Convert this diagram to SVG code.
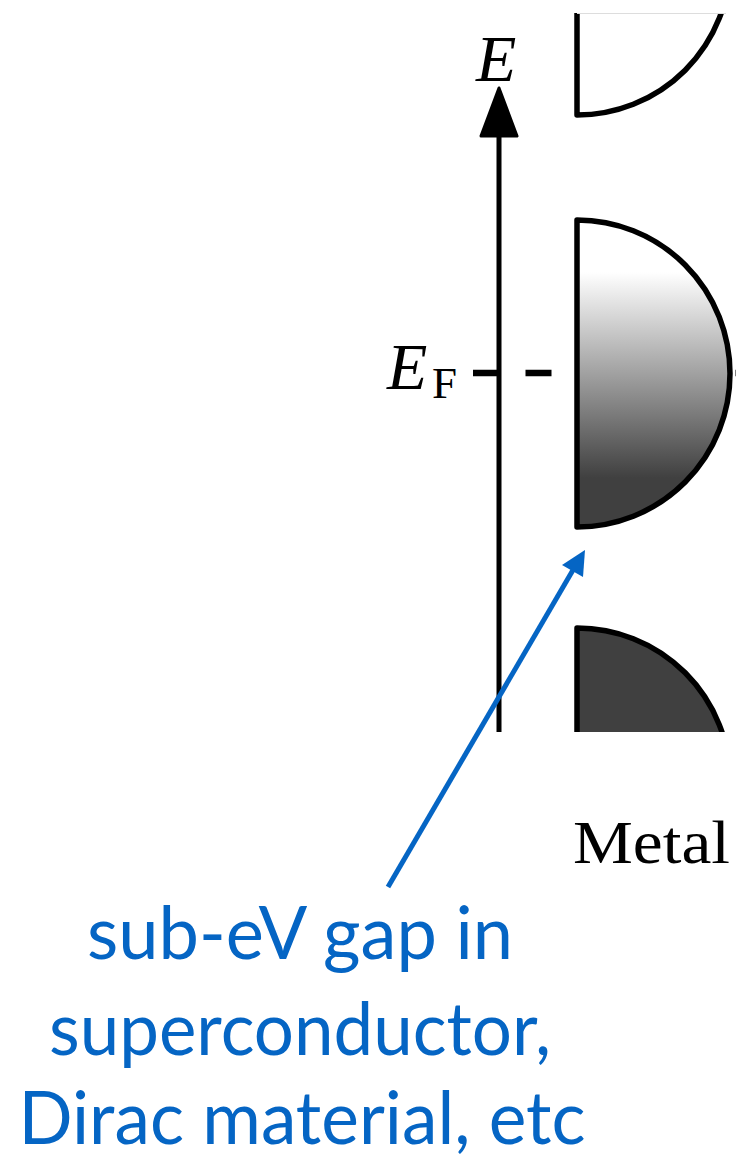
<svg xmlns="http://www.w3.org/2000/svg" width="736" height="1158" viewBox="0 0 736 1158">
  <style>
    .band { stroke: #000; stroke-width: 5.5; stroke-linejoin: round; }
    .math { font-family: "Liberation Serif", "DejaVu Serif", serif; fill: #000; }
    .note { font-family: Lato, "Open Sans", "Noto Sans", sans-serif; font-size: 73px; fill: #0565c4; text-anchor: middle; }
  </style>
  <defs>
    <clipPath id="clip">
      <rect x="0" y="13" width="736" height="719"/>
    </clipPath>
    <linearGradient id="grad" x1="0" y1="0" x2="0" y2="1">
      <stop offset="0.17" stop-color="#ffffff"/>
      <stop offset="0.84" stop-color="#404040"/>
    </linearGradient>
  </defs>
  <rect width="736" height="1158" fill="#fff"/>

  <!-- E_F dashed level (behind bands) -->
  <g id="fermi-level">
    <line x1="473" y1="373" x2="760" y2="373" stroke="#000" stroke-width="6.5" stroke-dasharray="26 26.5"/>
  </g>

  <g id="bands" clip-path="url(#clip)">
    <g id="upper-band">
      <path class="band" fill="#fff" d="M577,0 L577,115 A153,153 0 0 0 730,-38 L730,0"/>
      <line x1="577" y1="13.5" x2="726" y2="13.5" stroke="#ddd" stroke-width="1"/>
    </g>
    <g id="middle-band">
      <path class="band" fill="url(#grad)" d="M577,220 A153,153.5 0 0 1 577,527 Z"/>
    </g>
    <g id="lower-band">
      <path class="band" fill="#404040" d="M577,760 L577,628 A153,153 0 0 1 730,781"/>
    </g>
  </g>

  <g id="axis">
    <line x1="499" y1="732" x2="499" y2="130" stroke="#000" stroke-width="5"/>
    <polygon points="499,88 517,136 481,136" fill="#000" stroke="#000" stroke-width="3" stroke-linejoin="round"/>
  </g>

  <g id="labels">
    <text class="math" x="476" y="81" font-size="66" font-style="italic">E</text>
    <text class="math" x="387" y="389" font-size="66" font-style="italic">E</text>
    <text class="math" x="432" y="398" font-size="45">F</text>
    <text class="math" x="573" y="863" font-size="62" textLength="157" lengthAdjust="spacingAndGlyphs">Metal</text>
  </g>

  <g id="connectors">
    <line x1="388" y1="887" x2="573" y2="570" stroke="#0565c4" stroke-width="5"/>
    <polygon points="585,550 583,577 562,565" fill="#0565c4"/>
  </g>

  <g id="note">
    <text class="note" x="300" y="959" textLength="426" lengthAdjust="spacingAndGlyphs">sub-eV gap in</text>
    <text class="note" x="300" y="1055" textLength="502" lengthAdjust="spacingAndGlyphs">superconductor,</text>
    <text class="note" x="302" y="1144" font-size="70" textLength="567" lengthAdjust="spacingAndGlyphs">Dirac material, etc</text>
  </g>
</svg>
